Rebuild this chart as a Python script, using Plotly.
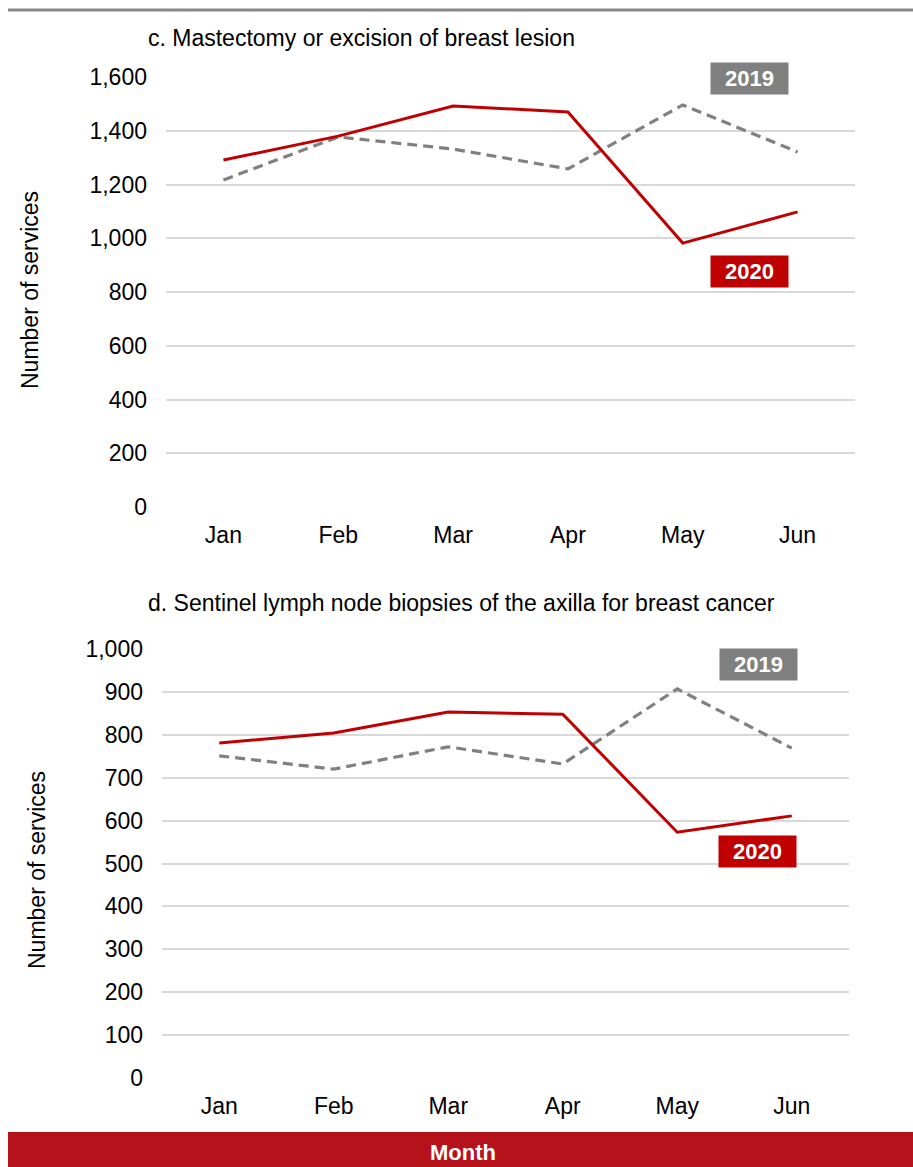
import plotly.graph_objects as go

W, H = 913, 1167
months = ["Jan", "Feb", "Mar", "Apr", "May", "Jun"]

# Panel c: Mastectomy or excision of breast lesion
mast_2019 = [1217, 1377, 1332, 1258, 1496, 1321]
mast_2020 = [1291, 1380, 1492, 1470, 982, 1098]

# Panel d: Sentinel lymph node biopsies
slnb_2019 = [751, 720, 772, 732, 907, 769]
slnb_2020 = [781, 804, 853, 848, 573, 611]

title_c = "c. Mastectomy or excision of breast lesion"
title_d = "d. Sentinel lymph node biopsies of the axilla for breast cancer"

RED = "#C00000"
GRAY = "#808080"
BANNER = "#B5121B"
FONT = "Liberation Sans, Arial, sans-serif"


def px_y(p):
    return 1 - p / H


def px_x(p):
    return p / W


fig = go.Figure()

fig.add_trace(go.Scatter(x=months, y=mast_2019, mode="lines", name="2019",
                         line=dict(color=GRAY, width=3.2, dash="10px,6px"),
                         xaxis="x", yaxis="y"))
fig.add_trace(go.Scatter(x=months, y=mast_2020, mode="lines", name="2020",
                         line=dict(color=RED, width=3),
                         xaxis="x", yaxis="y"))
fig.add_trace(go.Scatter(x=months, y=slnb_2019, mode="lines", name="2019",
                         line=dict(color=GRAY, width=3.2, dash="10px,6px"),
                         xaxis="x2", yaxis="y2"))
fig.add_trace(go.Scatter(x=months, y=slnb_2020, mode="lines", name="2020",
                         line=dict(color=RED, width=3),
                         xaxis="x2", yaxis="y2"))

tickfont = dict(family=FONT, size=23, color="#000000")
xcommon = dict(type="category", range=[-0.5, 5.5], showgrid=False, zeroline=False,
               showline=False, ticks="", tickfont=tickfont, ticklabelstandoff=12,
               fixedrange=True, automargin=False)
ycommon = dict(showgrid=True, gridcolor="#D9D9D9", gridwidth=1.5, zeroline=False,
               showline=False, ticks="", tickfont=tickfont, tickformat=",d",
               ticklabelstandoff=18, fixedrange=True, automargin=False)

fig.update_layout(
    width=W, height=H,
    margin=dict(l=0, r=0, t=0, b=0, autoexpand=False),
    paper_bgcolor="white", plot_bgcolor="white",
    showlegend=False,
    font=dict(family=FONT, color="#000000"),
    xaxis=dict(domain=[px_x(166), px_x(855)], anchor="y", **xcommon),
    yaxis=dict(domain=[px_y(507), px_y(77)], anchor="x", range=[0, 1600],
               dtick=200, **ycommon),
    xaxis2=dict(domain=[px_x(162), px_x(849)], anchor="y2", **xcommon),
    yaxis2=dict(domain=[px_y(1078), px_y(649)], anchor="x2", range=[0, 1000],
                dtick=100, **ycommon),
)

shapes = [
    dict(type="line", xref="paper", yref="paper", x0=px_x(8), x1=1,
         y0=px_y(10), y1=px_y(10), line=dict(color="#888888", width=3)),
    dict(type="rect", xref="paper", yref="paper", x0=px_x(8), x1=1,
         y0=0, y1=px_y(1132), line=dict(width=0), fillcolor=BANNER),
]
fig.update_layout(shapes=shapes)

ann = []
ann.append(dict(text=title_c, xref="paper", yref="paper", x=px_x(146), y=px_y(38),
                xanchor="left", yanchor="middle", showarrow=False,
                font=dict(family=FONT, size=23, color="#000000")))
ann.append(dict(text=title_d, xref="paper", yref="paper", x=px_x(146), y=px_y(603),
                xanchor="left", yanchor="middle", showarrow=False,
                font=dict(family=FONT, size=23, color="#000000")))
ann.append(dict(text="Number of services", xref="paper", yref="paper",
                x=px_x(30), y=px_y(290), textangle=-90, xanchor="center",
                yanchor="middle", showarrow=False,
                font=dict(family=FONT, size=23, color="#000000")))
ann.append(dict(text="Number of services", xref="paper", yref="paper",
                x=px_x(37), y=px_y(870), textangle=-90, xanchor="center",
                yanchor="middle", showarrow=False,
                font=dict(family=FONT, size=23, color="#000000")))
ann.append(dict(text="<b>Month</b>", xref="paper", yref="paper",
                x=px_x(463), y=px_y(1152), xanchor="center", yanchor="middle",
                showarrow=False, font=dict(family=FONT, size=22, color="white")))

labels = [
    ("2019", GRAY, 749, 78),
    ("2020", RED, 749, 272),
    ("2019", GRAY, 758, 664),
    ("2020", RED, 757, 851),
]
for txt, col, cx, cy in labels:
    ann.append(dict(text="<b>%s</b>" % txt, xref="paper", yref="paper",
                    x=px_x(cx), y=px_y(cy), xanchor="center", yanchor="middle",
                    showarrow=False, bgcolor=col, width=71, height=25, borderpad=3,
                    font=dict(family=FONT, size=22, color="white")))

fig.update_layout(annotations=ann)

fig.write_html("out.html")
